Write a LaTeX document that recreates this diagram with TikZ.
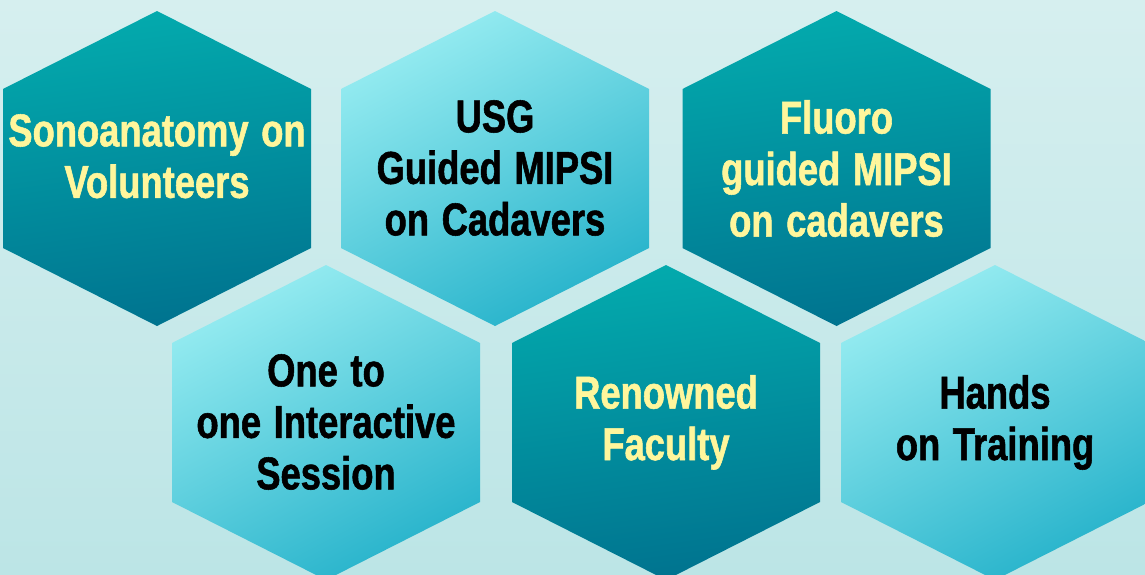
\documentclass[tikz,border=0pt]{standalone}
\usepackage{fontspec}
\newfontfamily\hexfont{Liberation Sans}[FakeStretch=0.79,FakeBold=1.2,WordSpace=1.25]
\definecolor{bgtop}{HTML}{D6EFEF}
\definecolor{bgbot}{HTML}{BCE5E6}
\definecolor{hdtop}{HTML}{03AAAD}
\definecolor{hdbot}{HTML}{00738F}
\definecolor{hltop}{HTML}{96ECF1}
\definecolor{hlbot}{HTML}{27B3CB}
\definecolor{txtyellow}{HTML}{FFF69C}
\newcommand\hexat[3]{%
  \shade[#3] (#1,#2-157.5) -- (#1+154,#2-79.5) -- (#1+154,#2+79.5) -- (#1,#2+157.5)
    -- (#1-154,#2+79.5) -- (#1-154,#2-79.5) -- cycle;}
\begin{document}
\begin{tikzpicture}[x=1pt,y=-1pt,
  hexdark/.style={shading=axis, top color=hdtop, bottom color=hdbot, shading angle=8},
  hexlight/.style={shading=axis, top color=hltop, bottom color=hlbot, shading angle=28},
  lbl/.style={anchor=north, inner sep=0pt, align=center,
    font=\hexfont\bfseries\fontsize{46}{51.5}\selectfont},
  lbldark/.style={lbl, text=txtyellow},
  lbllight/.style={lbl, text=black}]
\useasboundingbox (0,0) rectangle (1145,574);
\clip (0,0) rectangle (1145,574);
\shade[top color=bgtop, bottom color=bgbot] (0,0) rectangle (1145,574);
% top row
\hexat{157}{168.5}{hexdark}
\hexat{495}{168.5}{hexlight}
\hexat{836.5}{168.5}{hexdark}
% bottom row
\hexat{326}{422.5}{hexlight}
\hexat{666}{422.5}{hexdark}
\hexat{995}{422.5}{hexlight}
% labels
\node[lbldark]  (sono)  at (157,114)   {Sonoanatomy on\\Volunteers};
\node[lbllight] (usg)   at (495,100)   {USG\\Guided MIPSI\\on Cadavers};
\node[lbldark]  (fluor) at (836.5,100) {Fluoro\\guided MIPSI\\on cadavers};
\node[lbllight] (one)   at (326,354)   {One to\\one Interactive\\Session};
\node[lbldark]  (fac)   at (666,375)   {Renowned\\Faculty};
\node[lbllight] (hands) at (995,375)   {Hands\\on Training};
\end{tikzpicture}
\end{document}
